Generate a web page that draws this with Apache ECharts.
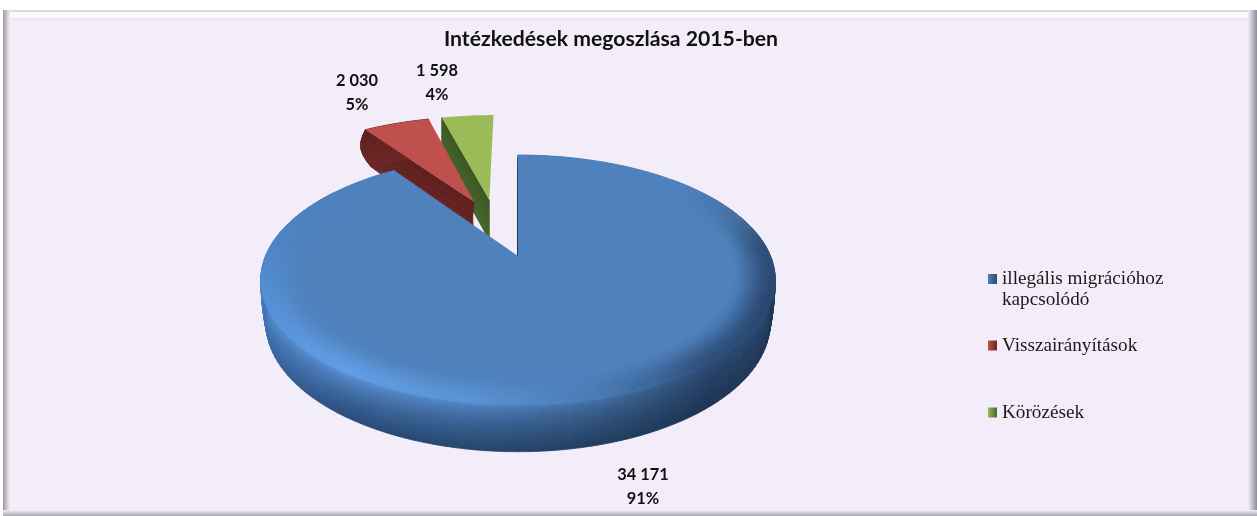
<!DOCTYPE html>
<html><head><meta charset="utf-8">
<style>html,body{margin:0;padding:0;background:#fff}#c{width:1257px;height:516px}</style>
<script src="https://cdn.jsdelivr.net/npm/echarts@6/dist/echarts.min.js"></script>
</head><body><div id="c"></div>
<script>
// ---- data ----
const categories = ['illegális migrációhoz kapcsolódó', 'Visszairányítások', 'Körözések'];
const values = [34171, 2030, 1598];
const percentLabels = ['91%', '5%', '4%'];
const chartTitle = 'Intézkedések megoszlása 2015-ben';

// ---- drawing style ----
const faces = ['#4F81BD', '#C0504D', '#9BBB59'];
const wallTops = ['#2c4a70', '#5c1e1c', '#3a5520'];
const wallBottoms = ['#1f3858', '#6b2725', '#46642a'];
const explode = [[0, 0], [-0.19, -0.49], [-0.125, -0.51]];
const bulge = [[0.004, 0.02], [0.05, 0.04], [0, 0]];
const arcWall = [true, true, false];
const labelAt = [[643, 472], [357, 78], [437, 68]];
const seriesZ = [4, 3, 2];
const legendTops = [247.5, 335, 402];
const legendSwatch = [['#4F81BD', '#2c4a70'], ['#C0504D', '#6b2725'], ['#9BBB59', '#46642a']];
const rimStops = [[0,'#4F81BD'],[50,'#4F81BD'],[70,'#45719f'],[85,'#2f4f78'],[110,'#2a4670'],[140,'#2e4f7a'],[165,'#4a7bb5'],[190,'#5b94d8'],[215,'#629fe6'],[250,'#5590d6'],[275,'#4d85c6'],[300,'#4F81BD'],[360,'#4F81BD']];
const wallStops = [[0,'#2a4568'],[60,'#2a4568'],[90,'#1f3858'],[140,'#1d3553'],[180,'#264469'],[215,'#2a4d7c'],[250,'#3a6aa6'],[275,'#4a80c4'],[300,'#4a80c4'],[360,'#2a4568']];

// perspective disc
const AX = 518, AY = 256, R = 252.5, H = 120.4, K = 0.192, DEPTH = 42;
const total = values.reduce((a, b) => a + b, 0);

function hex(c){return [1,3,5].map(i=>parseInt(c.substr(i,2),16));}
function mix(a,b,t){const A=hex(a),B=hex(b);return '#'+A.map((x,i)=>Math.round(x+(B[i]-x)*t).toString(16).padStart(2,'0')).join('');}
function stopColor(st,a){for(let i=1;i<st.length;i++){if(a<=st[i][0]){return mix(st[i-1][1],st[i][1],(a-st[i-1][0])/(st[i][0]-st[i-1][0]));}}return st[st.length-1][1];}
function fmt(n){return String(n).replace(/\B(?=(\d{3})+$)/g,' ');}

function renderSlice(i){
  const start = values.slice(0,i).reduce((a,b)=>a+b,0);
  return function(params, api){
    const val = api.value(0);
    const a0 = start/total*360, a1 = (start+val)/total*360;
    const [ou,ov] = explode[i], [bb,bc] = bulge[i];
    const P = (u,v,d)=>{
      const uu=u+ou, vv=v+ov, w=1-K*vv;
      const s=1+bb*Math.sin(Math.PI*d)-bc*d;
      return [AX+R*uu/w*s, AY+H*vv/w+DEPTH*d/Math.sqrt(w)];
    };
    const PA=(deg,r,d)=>{const t=deg*Math.PI/180;return P(r*Math.sin(t),-r*Math.cos(t),d);};
    const children=[];
    const poly=(pts,color,z)=>children.push({type:'polygon',shape:{points:pts},style:{fill:color,stroke:color,lineWidth:0.8},z2:z,silent:true});
    const step=Math.min(2,(a1-a0)/12);
    const angles=[];for(let a=a0;a<a1-1e-6;a+=step)angles.push(a);angles.push(a1);
    const WN=i===0?14:6;
    for(let n=0;n<WN;n++){
      const d0=n/WN,d1=(n+1)/WN;
      const c=i===0?'#1f3858':mix(wallTops[i],wallBottoms[i],d1);
      // the cut face that looks at the viewer
      poly([P(0,0,d0),PA(a0,1,d0),PA(a0,1,d1),P(0,0,d1)],c,1);
      if(!arcWall[i])continue;
      for(let j=0;j<angles.length-1;j++){
        const m=(angles[j]+angles[j+1])/2;
        const col=i===0?mix(stopColor(rimStops,m),stopColor(wallStops,m),Math.pow(d1,0.6)):c;
        poly([PA(angles[j],1,d0),PA(angles[j+1],1,d0),PA(angles[j+1],1,d1),PA(angles[j],1,d1)],col,2);
      }
    }
    // top face
    const face=[P(0,0,0)];angles.forEach(a=>face.push(PA(a,1,0)));
    children.push({type:'polygon',shape:{points:face},style:{fill:faces[i]},z2:5,silent:true});
    // rounded rim shading on the big slice
    if(i===0){
      const RN=12,r0=0.84;
      for(let n=0;n<RN;n++){
        const t0=n/RN,t1=(n+1)/RN,ra=r0+(1-r0)*t0,rb=r0+(1-r0)*t1;
        const tone=t1*t1*(3-2*t1);
        for(let j=0;j<angles.length-1;j++){
          const m=(angles[j]+angles[j+1])/2;
          if(m<45||m>305)continue;
          poly([PA(angles[j],ra,0),PA(angles[j+1],ra,0),PA(angles[j+1],rb,0),PA(angles[j],rb,0)],mix(faces[0],stopColor(rimStops,m),tone),6);
        }
      }
    }
    // value + percent label
    children.push({type:'text',silent:true,z2:10,style:{x:labelAt[i][0],y:labelAt[i][1]-9,text:fmt(val)+'\n'+percentLabels[i],align:'center',verticalAlign:'top',
      font:'700 16.4px Lato',fill:'#111',lineHeight:24}});
    return {type:'group',children};
  };
}

const grad=(x,y,x2,y2,a,b)=>new echarts.graphic.LinearGradient(x,y,x2,y2,[{offset:0,color:a},{offset:1,color:b}]);
const BG='#F3EDFA';
const option={
  animation:false,
  backgroundColor:'#fff',
  title:{text:chartTitle,left:611,textAlign:'center',top:29,padding:0,textStyle:{fontFamily:'Lato',fontWeight:700,fontSize:21.2,color:'#111'}},
  legend:categories.map((name,i)=>({
    data:[{name,itemStyle:{color:grad(0,0,1,0,legendSwatch[i][0],legendSwatch[i][1])}}],
    left:988,top:legendTops[i],orient:'vertical',padding:0,selectedMode:false,icon:'rect',itemWidth:9,itemHeight:10,
    formatter:n=>n.replace('illegális migrációhoz ','\nillegális migrációhoz\n'),
    textStyle:{fontFamily:'Liberation Serif',fontSize:19.2,color:'#1a1a1a',lineHeight:21}
  })),
  graphic:{elements:[
    {type:'rect',z:-10,shape:{x:3,y:10,width:1254,height:506},style:{fill:BG},silent:true},
    {type:'rect',z:-9,shape:{x:3,y:10,width:1254,height:12},style:{fill:grad(0,0,0,1,'#dcd9e2','#F3EDFA')},silent:true},
    {type:'rect',z:-9,shape:{x:6,y:12,width:1245,height:6},style:{fill:'#FBF9FD'},silent:true},
    {type:'rect',z:-8,shape:{x:3,y:10,width:7,height:506},style:{fill:grad(0,0,1,0,'#9d9aa3','#F3EDFA')},silent:true},
    {type:'rect',z:-8,shape:{x:1248,y:10,width:9,height:506},style:{fill:grad(0,0,1,0,'#F3EDFA','#8e8c94')},silent:true},
    {type:'rect',z:-8,shape:{x:3,y:510,width:1254,height:6},style:{fill:grad(0,0,0,1,'#F3EDFA','#a8a6ad')},silent:true}
  ]},
  series:categories.map((name,i)=>({
    type:'custom',name,coordinateSystem:'none',z:seriesZ[i],silent:true,
    itemStyle:{color:faces[i]},
    data:[[values[i]]],
    renderItem:renderSlice(i)
  }))
};
echarts.init(document.getElementById('c'),null,{renderer:'canvas'}).setOption(option);
</script></body></html>
